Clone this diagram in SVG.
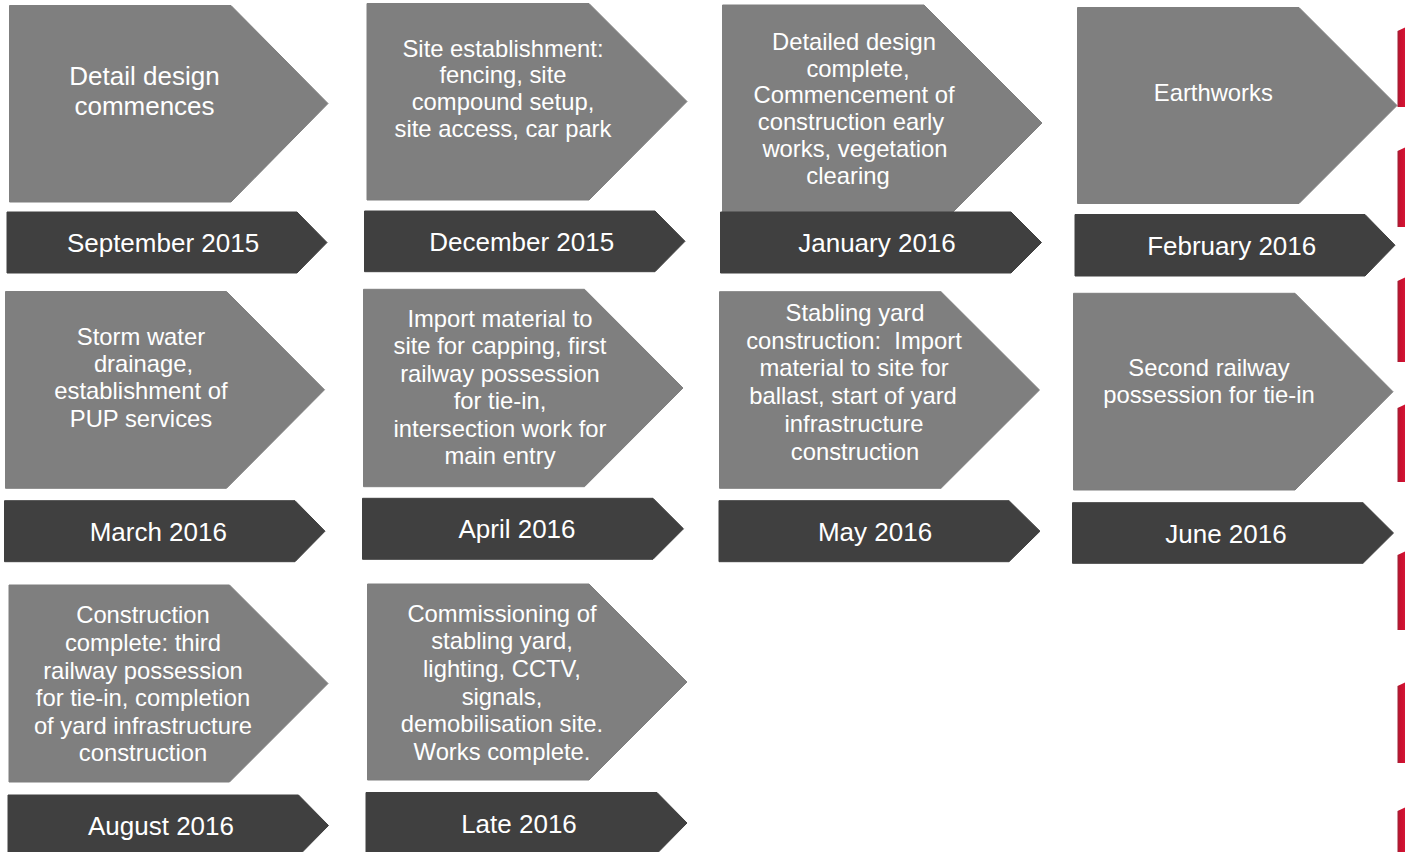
<svg xmlns="http://www.w3.org/2000/svg" width="1405" height="852" viewBox="0 0 1405 852">
<style>
.big{fill:#7f7f7f;stroke:#7f7f7f;stroke-width:1;stroke-linejoin:round}
.dark{fill:#404040;stroke:#404040;stroke-width:1;stroke-linejoin:round}
text{font-family:"Liberation Sans",Arial,sans-serif;fill:#ffffff;text-anchor:middle}
.b{font-size:23.8px}
.b26{font-size:26px}
.d{font-size:26px}
.mark{fill:url(#redg)}
</style>
<defs>
<linearGradient id="redg" x1="0" y1="0" x2="1" y2="0">
<stop offset="0" stop-color="#9c2236"/>
<stop offset="0.35" stop-color="#c8102e"/>
<stop offset="1" stop-color="#d41434"/>
</linearGradient>
</defs>
<rect width="1405" height="852" fill="#ffffff"/>

<g id="sep2015">
<path class="big" d="M9.5,5.5 H231 L328,103.5 L231,202 H9.5 Z"/>
<text class="b26" x="144.5" y="85">Detail design</text>
<text class="b26" x="144.5" y="115">commences</text>
</g>
<g id="sep2015-date">
<path class="dark" d="M7,212 H297 L327,242.5 L297,273 H7 Z"/>
<text class="d" x="163" y="252.3">September 2015</text>
</g>

<g id="dec2015">
<path class="big" d="M367,3.5 H589 L687,101.5 L589,200 H367 Z"/>
<text class="b" x="503" y="56.7">Site establishment:</text>
<text class="b" x="503" y="83.4">fencing, site</text>
<text class="b" x="503" y="110.1">compound setup,</text>
<text class="b" x="503" y="136.8">site access, car park</text>
</g>
<g id="dec2015-date">
<path class="dark" d="M364.5,211 H655 L685,241.3 L655,271.7 H364.5 Z"/>
<text class="d" x="521.7" y="250.7">December 2015</text>
</g>

<g id="jan2016">
<path class="big" d="M722.5,5 H924 L1042,123 L924,241 H722.5 Z"/>
<text class="b" x="854" y="50">Detailed design</text>
<text class="b" x="858" y="76.7">complete,</text>
<text class="b" x="854" y="103.4">Commencement of</text>
<text class="b" x="851" y="130.1">construction early</text>
<text class="b" x="855" y="156.8">works, vegetation</text>
<text class="b" x="848" y="183.5">clearing</text>
</g>
<g id="jan2016-date">
<path class="dark" d="M720.5,212 H1011 L1041.5,242.5 L1011,273 H720.5 Z"/>
<text class="d" x="877" y="252">January 2016</text>
</g>

<g id="feb2016">
<path class="big" d="M1077.5,7.5 H1299 L1397,105.5 L1299,203.5 H1077.5 Z"/>
<text class="b" x="1213.3" y="100.7">Earthworks</text>
</g>
<g id="feb2016-date">
<path class="dark" d="M1075,214.5 H1365 L1395,245.2 L1365,276 H1075 Z"/>
<text class="d" x="1231.7" y="255">February 2016</text>
</g>

<g id="mar2016">
<path class="big" d="M5.5,291.5 H226.5 L324.5,389.8 L226.5,488.3 H5.5 Z"/>
<text class="b" x="141" y="345">Storm water</text>
<text class="b" x="143.5" y="372">drainage,</text>
<text class="b" x="141" y="399.3">establishment of</text>
<text class="b" x="141" y="426.7">PUP services</text>
</g>
<g id="mar2016-date">
<path class="dark" d="M4.5,500.7 H295 L325,531.2 L295,561.7 H4.5 Z"/>
<text class="d" x="158.3" y="540.9">March 2016</text>
</g>

<g id="apr2016">
<path class="big" d="M363.5,289.3 H584.5 L683,388 L584.5,486.7 H363.5 Z"/>
<text class="b" x="500" y="326.7">Import material to</text>
<text class="b" x="500" y="354.2">site for capping, first</text>
<text class="b" x="500" y="381.7">railway possession</text>
<text class="b" x="500" y="409.2">for tie-in,</text>
<text class="b" x="500" y="436.7">intersection work for</text>
<text class="b" x="500" y="464.2">main entry</text>
</g>
<g id="apr2016-date">
<path class="dark" d="M362.5,498.3 H653 L683.5,528.8 L653,559.3 H362.5 Z"/>
<text class="d" x="517" y="538.3">April 2016</text>
</g>

<g id="may2016">
<path class="big" d="M719.5,291.7 H941 L1039.5,390 L941,488.3 H719.5 Z"/>
<text class="b" x="855" y="321">Stabling yard</text>
<text class="b" x="854" y="348.7" xml:space="preserve">construction:  Import</text>
<text class="b" x="854" y="376.4">material to site for</text>
<text class="b" x="853" y="404.1">ballast, start of yard</text>
<text class="b" x="854" y="431.8">infrastructure</text>
<text class="b" x="855" y="459.5">construction</text>
</g>
<g id="may2016-date">
<path class="dark" d="M719,500.7 H1009 L1040,531.2 L1009,561.7 H719 Z"/>
<text class="d" x="875" y="540.7">May 2016</text>
</g>

<g id="jun2016">
<path class="big" d="M1073.5,293.3 H1295 L1393,391.7 L1295,490 H1073.5 Z"/>
<text class="b" x="1209" y="376">Second railway</text>
<text class="b" x="1209" y="403.3">possession for tie-in</text>
</g>
<g id="jun2016-date">
<path class="dark" d="M1072.5,502.7 H1363 L1393.5,533 L1363,563.3 H1072.5 Z"/>
<text class="d" x="1226" y="542.5">June 2016</text>
</g>

<g id="aug2016">
<path class="big" d="M9,585 H229.5 L328,683.5 L229.5,782 H9 Z"/>
<text class="b" x="143" y="623.3">Construction</text>
<text class="b" x="143" y="651">complete: third</text>
<text class="b" x="143" y="678.5">railway possession</text>
<text class="b" x="143" y="706">for tie-in, completion</text>
<text class="b" x="143" y="733.6">of yard infrastructure</text>
<text class="b" x="143" y="761.2">construction</text>
</g>
<g id="aug2016-date">
<path class="dark" d="M8,795 H298.5 L328.5,825.5 L298.5,856 H8 Z"/>
<text class="d" x="161" y="835">August 2016</text>
</g>

<g id="late2016">
<path class="big" d="M367.5,584 H589 L687,682 L589,780 H367.5 Z"/>
<text class="b" x="502" y="621.7">Commissioning of</text>
<text class="b" x="502" y="649.3">stabling yard,</text>
<text class="b" x="502" y="676.9">lighting, CCTV,</text>
<text class="b" x="502" y="704.5">signals,</text>
<text class="b" x="502" y="732.1">demobilisation site.</text>
<text class="b" x="502" y="759.7">Works complete.</text>
</g>
<g id="late2016-date">
<path class="dark" d="M366,792.5 H657 L687,823 L657,853.5 H366 Z"/>
<text class="d" x="519" y="832.5">Late 2016</text>
</g>

<g id="connectors"></g>

<g id="edge-marks">
<path class="mark" d="M1397.5,31 L1405,27.5 V107 H1397.5 Z"/>
<path class="mark" d="M1397.5,151 L1405,147.5 V227 H1397.5 Z"/>
<path class="mark" d="M1397.5,281 L1405,277.5 V362 H1397.5 Z"/>
<path class="mark" d="M1397.5,408 L1405,404.5 V482 H1397.5 Z"/>
<path class="mark" d="M1397.5,555 L1405,551.5 V630 H1397.5 Z"/>
<path class="mark" d="M1397.5,686 L1405,682.5 V763 H1397.5 Z"/>
<path class="mark" d="M1397.5,811 L1405,807.5 V852 H1397.5 Z"/>
</g>
</svg>
